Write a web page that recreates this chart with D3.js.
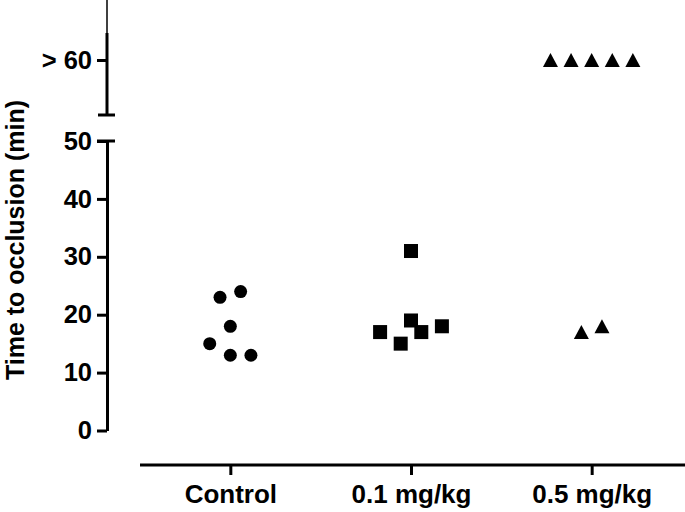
<!DOCTYPE html>
<html>
<head>
<meta charset="utf-8">
<script src="https://cdn.jsdelivr.net/npm/d3@7"></script>
<style>
  html, body { margin: 0; padding: 0; background: #fff; }
  svg { display: block; }
  text { font-family: "Liberation Sans", Arial, sans-serif; font-weight: bold; fill: #000; }
</style>
</head>
<body>
<svg id="chart" width="685" height="512"></svg>
<script>
// ---- data ----
const categories = ["Control", "0.1 mg/kg", "0.5 mg/kg"];
const controlValues = [23, 24, 18, 15, 13, 13];
const controlSlots = [-1, 1, 0, -2, 0, 2];
const lowDoseValues = [31, 17, 19, 15, 17, 18];
const lowDoseSlots = [0, -3, 0, -1, 1, 3];
const highDoseValues = [">60", ">60", ">60", ">60", ">60", 17, 18];
const highDoseSlots = [-4, -2, 0, 2, 4, -1, 1];
const yTicks = [0, 10, 20, 30, 40, 50];
const yTopTicks = [">60"];
const yTopLabels = ["> 60"];
const yTitle = "Time to occlusion (min)";

const svg = d3.select("#chart");
const slotW = 10.3;
const fontFam = '"Liberation Sans", Arial, sans-serif';

const x = d3.scalePoint().domain(categories).range([140, 682]).padding(0.5);
const y = d3.scaleLinear().domain([0, 50]).range([430.5, 141]);
const yTop = d3.scalePoint().domain(yTopTicks).range([115, 5]);
const axisX = 107;

function yPos(v) { return typeof v === "number" ? y(v) : yTop(v); }

// ---- lower y axis ----
const gy = svg.append("g").attr("transform", `translate(${axisX},0)`)
  .call(d3.axisLeft(y).tickValues(yTicks).tickSize(10).tickSizeOuter(0).tickPadding(5));
gy.select(".domain").attr("stroke-width", 3);
gy.selectAll(".tick line").attr("stroke-width", 3);
gy.selectAll(".tick text").style("font-size", "25.5px").style("font-family", fontFam).style("font-weight", "bold");

// ---- upper y axis ----
const gyt = svg.append("g").attr("transform", `translate(${axisX},0)`)
  .call(d3.axisLeft(yTop).tickValues(yTopTicks).tickFormat((d, i) => yTopLabels[i]).tickSize(10).tickSizeOuter(0).tickPadding(5));
gyt.select(".domain").remove();
gyt.selectAll(".tick line").attr("stroke-width", 3);
gyt.selectAll(".tick text").style("font-size", "25.5px").style("font-family", fontFam).style("font-weight", "bold");
gyt.append("line").attr("x1", 0).attr("x2", 0).attr("y1", 115).attr("y2", 33).attr("stroke", "#000").attr("stroke-width", 3);
gyt.append("line").attr("x1", 0).attr("x2", 0).attr("y1", 33).attr("y2", 0).attr("stroke", "#000").attr("stroke-width", 1.5);

// break caps
svg.append("line").attr("x1", axisX - 9).attr("x2", axisX + 8).attr("y1", 115).attr("y2", 115).attr("stroke", "#000").attr("stroke-width", 3);
svg.append("line").attr("x1", axisX - 10).attr("x2", axisX + 8).attr("y1", y(50)).attr("y2", y(50)).attr("stroke", "#000").attr("stroke-width", 3);

// ---- x axis ----
const gx = svg.append("g").attr("transform", "translate(0,465)")
  .call(d3.axisBottom(x).tickSize(10).tickSizeOuter(0).tickPadding(10));
gx.select(".domain").remove();
gx.append("line").attr("x1", 140).attr("x2", 685).attr("y1", 0).attr("y2", 0).attr("stroke", "#000").attr("stroke-width", 3);
gx.selectAll(".tick line").attr("stroke-width", 3);
gx.selectAll(".tick text").style("font-size", "26px").style("font-family", fontFam).style("font-weight", "bold");

// ---- y title ----
svg.append("text")
  .attr("transform", "translate(24,240) rotate(-90)")
  .attr("text-anchor", "middle")
  .style("font-size", "25px")
  .text(yTitle);

// ---- points ----
const ctrl = controlValues.map((v, i) => ({ v, s: controlSlots[i] }));
svg.append("g").selectAll("circle").data(ctrl).join("circle")
  .attr("cx", d => x(categories[0]) + d.s * slotW)
  .attr("cy", d => yPos(d.v))
  .attr("r", 6.5)
  .attr("fill", "#000");

const low = lowDoseValues.map((v, i) => ({ v, s: lowDoseSlots[i] }));
svg.append("g").selectAll("rect").data(low).join("rect")
  .attr("x", d => x(categories[1]) + d.s * slotW - 7)
  .attr("y", d => yPos(d.v) - 7)
  .attr("width", 14)
  .attr("height", 14)
  .attr("fill", "#000");

const high = highDoseValues.map((v, i) => ({ v, s: highDoseSlots[i] }));
svg.append("g").selectAll("path").data(high).join("path")
  .attr("d", d => {
    const cx = x(categories[2]) + d.s * slotW, cy = yPos(d.v);
    return `M${cx},${cy - 7}L${cx + 7.5},${cy + 7}L${cx - 7.5},${cy + 7}Z`;
  })
  .attr("fill", "#000");
</script>
</body>
</html>
